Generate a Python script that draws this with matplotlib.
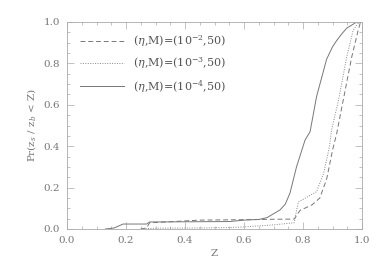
import matplotlib.pyplot as plt
from matplotlib.ticker import MultipleLocator

# cumulative curves
z_m2 = [0.25, 0.27, 0.28, 0.35, 0.45, 0.6, 0.7, 0.77, 0.79, 0.83, 0.857, 0.88, 0.90, 0.914, 0.936, 0.965, 0.987, 0.995]
p_m2 = [0.0, 0.005, 0.03, 0.035, 0.043, 0.045, 0.047, 0.048, 0.09, 0.116, 0.15, 0.24, 0.38, 0.46, 0.62, 0.83, 0.96, 1.0]

z_m3 = [0.25, 0.3, 0.45, 0.55, 0.6, 0.7, 0.77, 0.784, 0.846, 0.87, 0.89, 0.897, 0.92, 0.948, 0.97, 0.99]
p_m3 = [0.0, 0.004, 0.005, 0.007, 0.01, 0.02, 0.03, 0.13, 0.18, 0.27, 0.40, 0.48, 0.62, 0.83, 0.96, 1.0]

z_m4 = [0.13, 0.16, 0.19, 0.27, 0.28, 0.55, 0.6, 0.65, 0.678, 0.722, 0.74, 0.756, 0.778, 0.807, 0.824, 0.846, 0.865, 0.88, 0.9, 0.914, 0.93, 0.948, 0.965, 0.982]
p_m4 = [0.0, 0.005, 0.024, 0.024, 0.034, 0.036, 0.043, 0.046, 0.055, 0.092, 0.12, 0.174, 0.30, 0.43, 0.47, 0.64, 0.74, 0.82, 0.88, 0.91, 0.94, 0.97, 0.985, 1.0]

labels = [r"($\eta$,M)=(10$^{-2}$,50)", r"($\eta$,M)=(10$^{-3}$,50)", r"($\eta$,M)=(10$^{-4}$,50)"]

gray = "#777777"
plt.rcParams["font.family"] = "DejaVu Serif"
plt.rcParams["mathtext.fontset"] = "dejavuserif"

fig = plt.figure(figsize=(3.82, 2.73), dpi=100)
ax = fig.add_axes([67 / 382, 1 - 229 / 273, 295 / 382, 207 / 273])

ax.plot(z_m2, p_m2, color="#777777", lw=0.7, ls=(0, (5, 3)), label=labels[0])
ax.plot(z_m3, p_m3, color="#888888", lw=0.7, ls=(0, (1, 1.5)), label=labels[1])
ax.plot(z_m4, p_m4, color="#777777", lw=0.7, ls="-", label=labels[2])

ax.set_xlim(0, 1)
ax.set_ylim(0, 1)
ax.xaxis.set_major_locator(MultipleLocator(0.2))
ax.xaxis.set_minor_locator(MultipleLocator(0.05))
ax.yaxis.set_major_locator(MultipleLocator(0.2))
ax.yaxis.set_minor_locator(MultipleLocator(0.05))
ax.tick_params(which="both", direction="in", top=True, right=True, color="#aaaaaa",
               labelcolor=gray, labelsize=7.5, width=0.5, pad=5)
ax.tick_params(which="major", length=5)
ax.tick_params(which="minor", length=2.5)
for s in ax.spines.values():
    s.set_color("#aaaaaa")
    s.set_linewidth(0.6)

ax.set_xlabel("Z", color=gray, fontsize=7.5, labelpad=3)
ax.set_ylabel(r"Pr(z$_s$ / z$_b$ < Z)", color=gray, fontsize=7.5, labelpad=4)

leg = ax.legend(loc="upper left", frameon=False, fontsize=8, handlelength=4.0,
                handletextpad=0.8, labelspacing=0.6, bbox_to_anchor=(0.01, 0.995))
for t in leg.get_texts():
    t.set_color("#555555")

fig.savefig("out.png", dpi=100)
